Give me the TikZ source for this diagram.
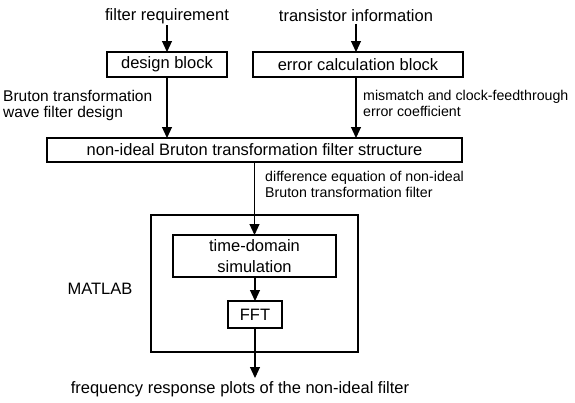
\documentclass[tikz,border=0pt]{standalone}
\usepackage{fontspec}
\setmainfont{Liberation Sans}
\usetikzlibrary{arrows.meta}
\begin{document}
\begin{tikzpicture}[x=1pt,y=-1pt,
  box/.style={draw, line width=1.1pt, inner sep=0pt, outer sep=0pt, font=\fontsize{16.5}{18}\selectfont},
  txt/.style={inner sep=1.5pt, font=\fontsize{16.5}{18}\selectfont},
  lbl/.style={inner sep=0pt, align=left, anchor=north west, font=\fontsize{14.2}{16.5}\selectfont},
  arr/.style={line width=1.1pt, -{Triangle[length=11pt,width=10pt]}}]
\useasboundingbox (0,0) rectangle (575,402);
\node[txt] (fr) at (167,16) {filter requirement};
\node[txt] (ti) at (356,16) {transistor information};
\node[box, minimum width=120pt, minimum height=25pt] (db) at (167,64.5) {design block};
\node[box, minimum width=210pt, minimum height=25pt] (ec) at (358,64.5) {error calculation block};
\node[box, minimum width=415pt, minimum height=24pt] (ni) at (254.5,150) {non-ideal Bruton transformation filter structure};
\node[box, minimum width=207pt, minimum height=137pt] (ml) at (254.5,283.5) {};
\node[box, minimum width=163pt, minimum height=42pt, align=center, font=\fontsize{16.5}{21}\selectfont] (td) at (254.5,256) {time-domain\\simulation};
\node[box, minimum width=54pt, minimum height=27pt] (fft) at (255,314.5) {FFT};
\coordinate (tip) at (255,378);
\node[txt, anchor=north] (out) at (240,380) {frequency response plots of the non-ideal filter};
\node[txt] (matlab) at (100,289) {MATLAB};
\node[lbl, font=\fontsize{15.5}{16.5}\selectfont] (l1) at (3,90) {Bruton transformation\\wave filter design};
\node[lbl] (l2) at (363,90) {mismatch and clock-feedthrough\\error coefficient};
\node[lbl] (l3) at (265,171) {difference equation of non-ideal\\Bruton transformation filter};
\draw[arr] (fr.south) -- (db.north);
\draw[arr] (ti.south) -- (ti.south |- ec.north);
\draw[arr] (db.south) -- (db.south |- ni.north);
\draw[arr] (ti.south |- ec.south) -- (ti.south |- ni.north);
\draw[arr] (ni.south -| td.north) -- (td.north);
\draw[arr] (td.south -| fft.north) -- (fft.north);
\draw[arr] (fft.south) -- (tip);
\end{tikzpicture}
\end{document}
